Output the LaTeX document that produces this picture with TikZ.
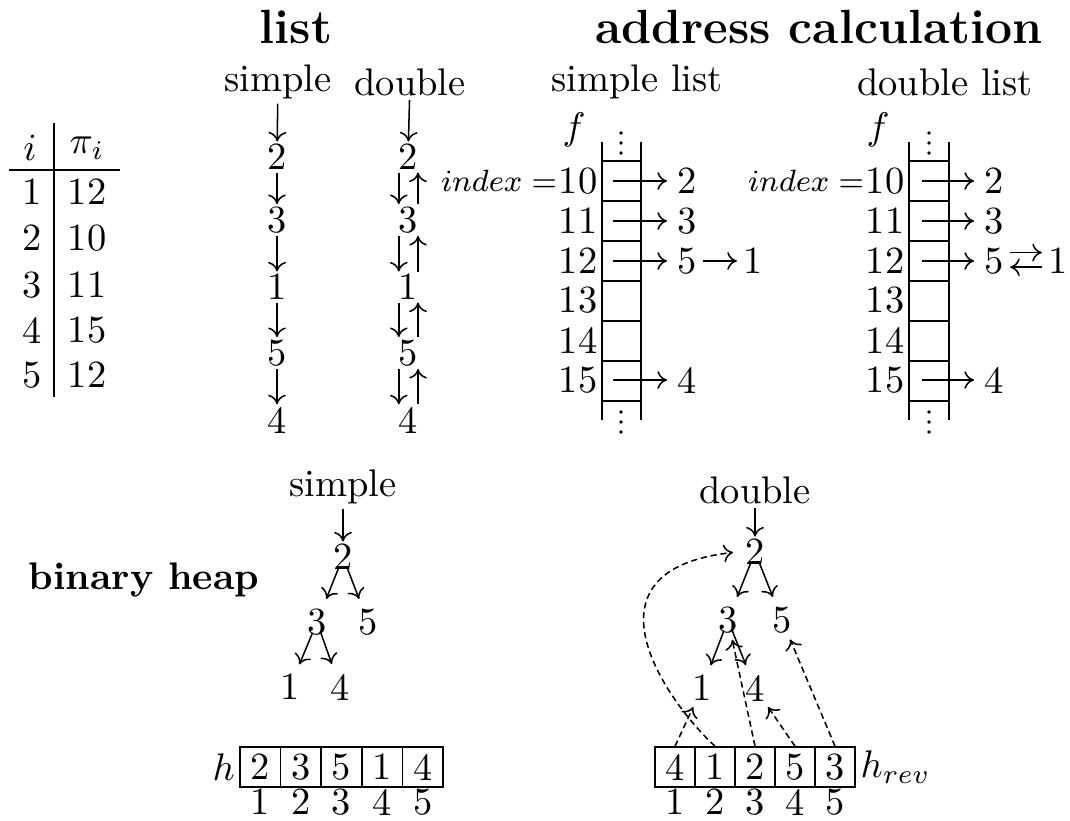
\documentclass[tikz,border=0pt]{standalone}
\usepackage{tikz}
\usetikzlibrary{arrows.meta}
\tikzset{
  num/.style={inner sep=0.5pt},
  word/.style={inner sep=1pt},
  head/.style={font=\fontsize{12.5pt}{15pt}\selectfont\bfseries},
  arr/.style={-{To[length=2.5pt,width=4.6pt]}},
  parr/.style={arr, shorten >=2pt},
  darr/.style={arr, dash pattern=on 1.6pt off 1pt, shorten >=1pt},
  tarr/.style={arr, shorten <=-1.5pt, shorten >=2pt},
  cell/.style={draw, minimum width=10.5pt, minimum height=10.4pt, inner sep=0pt}
}

\begin{document}
\begin{tikzpicture}[x=0.26pt, y=-0.26pt]
  \useasboundingbox (0,0) rectangle (1070,820);

  % table
  \node (ti) at (30,148) {$i$};
  \node (tpi) at (87,148) {$\pi_i$};
  \foreach \i/\p/\y in {1/12/192, 2/10/238, 3/11/285, 4/15/330, 5/12/375} {
    \node[num] (ta\i) at (32,\y) {\i};
    \node[num] (tb\i) at (87,\y) {\p};
  }
  \draw (54,123) -- (54,397);
  \draw (9,170) -- (120,170);

  % headings
  \node[head] (hl) at (296,27) {list};
  \node[head] (ha) at (819,27) {address calculation};
  \node[font=\bfseries] (hb) at (144,580) {binary heap};

  % lists
  \node[word] (ls) at (278,82) {simple};
  \node[word] (ld) at (410,82) {double};
  \foreach \n/\y in {2/157, 3/220, 1/287, 5/353, 4/420} {
    \node[num] (s\n) at (277,\y) {\n};
    \node[num] (d\n) at (408,\y) {\n};
  }
  \draw[arr] (ls) -- (s2);
  \draw[arr] (ld) -- (d2);
  \foreach \a/\b in {2/3, 3/1, 1/5, 5/4} {
    \draw[arr] (s\a) -- (s\b);
    \draw[arr] ([xshift=-2.4pt]d\a.south) -- ([xshift=-2.4pt]d\b.north);
    \draw[arr] ([xshift=2.6pt]d\b.north) -- ([xshift=2.6pt]d\a.south);
  }

  % address calculation, simple list
  \node[word] (as) at (637,82) {simple list};
  \node (sf) at (574,130) {$f$};
  \draw (602,142) -- (602,420);
  \draw (641,142) -- (641,420);
  \foreach \y in {161,201,...,401} \draw[line width=0.6pt] (602,\y) -- (641,\y);
  \foreach \y in {133,143,153,412,422,432} \fill (621,\y) circle (0.5pt);
  \foreach \r/\y in {10/181, 11/221, 12/261, 13/300, 14/340, 15/380} {
    \node[num, anchor=east] (sr\r) at (600,\y) {\r};
    \coordinate (sp\r) at (613,\y);
  }
  \node[anchor=east, inner sep=0pt, font=\footnotesize] (si) at ([xshift=0.4pt]sr10.west) {$index =$};
  \node[num] (sa2) at (687,181) {2};
  \node[num] (sa3) at (687,221) {3};
  \node[num] (sa5) at (687,261) {5};
  \node[num] (sa1) at (753,261) {1};
  \node[num] (sa4) at (687,380) {4};
  \draw[parr] (sp10) -- (sa2);
  \draw[parr] (sp11) -- (sa3);
  \draw[parr] (sp12) -- (sa5);
  \draw[parr] (sp15) -- (sa4);
  \draw[arr, shorten <=1pt, shorten >=1pt] (sa5) -- (sa1);

  % address calculation, double list
  \node[word] (ad) at (945,82) {double list};
  \node (df) at (878,130) {$f$};
  \draw (909,142) -- (909,420);
  \draw (949,142) -- (949,420);
  \foreach \y in {161,201,...,401} \draw[line width=0.6pt] (909,\y) -- (949,\y);
  \foreach \y in {133,143,153,412,422,432} \fill (929,\y) circle (0.5pt);
  \foreach \r/\y in {10/181, 11/221, 12/261, 13/300, 14/340, 15/380} {
    \node[num, anchor=east] (dr\r) at (907,\y) {\r};
    \coordinate (dp\r) at (922,\y);
  }
  \node[anchor=east, inner sep=0pt, font=\footnotesize] (di) at ([xshift=0.4pt]dr10.west) {$index =$};
  \node[num] (da2) at (994,181) {2};
  \node[num] (da3) at (994,221) {3};
  \node[num] (da5) at (994,261) {5};
  \node[num] (da1) at (1058,261) {1};
  \node[num] (da4) at (994,380) {4};
  \draw[parr] (dp10) -- (da2);
  \draw[parr] (dp11) -- (da3);
  \draw[parr] (dp12) -- (da5);
  \draw[parr] (dp15) -- (da4);
  \draw[arr, shorten <=1pt, shorten >=1pt] ([yshift=2.2pt]da5.east) -- ([yshift=2.2pt]da1.west);
  \draw[arr, shorten <=1pt, shorten >=1pt] ([yshift=-1.6pt]da1.west) -- ([yshift=-1.6pt]da5.east);

  % binary heap, simple
  \node[word] (hs) at (343,487) {simple};
  \node[num] (h2) at (343,557) {2};
  \node[num] (h3) at (317,622) {3};
  \node[num] (h5) at (368,622) {5};
  \node[num] (h1) at (290,687) {1};
  \node[num] (h4) at (340,687) {4};
  \draw[arr] (hs) -- (h2);
  \foreach \a/\b in {2/3, 2/5, 3/1, 3/4} \draw[tarr] (h\a) -- (h\b);
  \foreach \v [count=\k] in {2,3,5,1,4} {
    \node[cell] (hc\k) at ({260.3+40.6*(\k-1)},767) {\v};
    \node[num] (hi\k) at ({260.3+40.6*(\k-1)},802) {\k};
  }
  \node[anchor=east, inner sep=1pt] (hh) at (hc1.west) {$h$};

  % binary heap, double
  \node[word] (gs) at (755,490) {double};
  \node[num] (g2) at (755,552) {2};
  \node[num] (g3) at (728,620) {3};
  \node[num] (g5) at (782,620) {5};
  \node[num] (g1) at (702,688) {1};
  \node[num] (g4) at (755,688) {4};
  \draw[arr] (gs) -- (g2);
  \foreach \a/\b in {2/3, 2/5, 3/1, 3/4} \draw[tarr] (g\a) -- (g\b);
  \foreach \v [count=\k] in {4,1,2,5,3} {
    \node[cell] (gc\k) at ({675+40*(\k-1)},767) {\v};
    \node[num] (gi\k) at ({675+40*(\k-1)},802) {\k};
  }
  \node[anchor=west, inner sep=1pt] (gh) at (gc5.east) {$h_{rev}$};
  \draw[darr] (gc1.north) -- (g1);
  \draw[darr] (gc2.north) .. controls (665,700) and (575,570) .. ([xshift=-1.5pt]g2.west);
  \draw[darr] (gc3.north) -- (g3);
  \draw[darr] (gc4.north) -- (g4);
  \draw[darr] (gc5.north) -- (g5);
\end{tikzpicture}
\end{document}
